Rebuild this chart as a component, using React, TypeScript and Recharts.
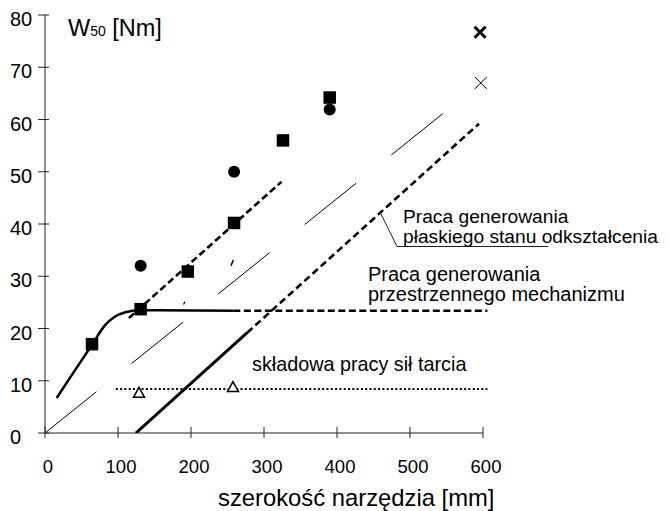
import React from 'react';
import { ComposedChart, Line, Scatter, XAxis, YAxis, ReferenceLine } from 'recharts';

const xTicks = [0, 100, 200, 300, 400, 500, 600];
const yTicks = [0, 10, 20, 30, 40, 50, 60, 70, 80];

// thin long-dash reference line from origin
const diagonalRef = [{ x: 0, y: 0 }, { x: 551, y: 61.8 }];
const refFragmentA = [{ x: 189.7, y: 24.6 }, { x: 191.8, y: 25.1 }];
const refFragmentB = [{ x: 254.8, y: 32.0 }, { x: 258, y: 33.1 }];

// plane strain work line
const planeStrainSolid = [{ x: 124.5, y: 0 }, { x: 277, y: 19.2 }];
const planeStrainDashed = [{ x: 277, y: 19.2 }, { x: 594.5, y: 59.2 }];

// spatial mechanism work curve
const spatialCurve = [
  { x: 16, y: 6.7 },
  { x: 40, y: 11.8 },
  { x: 65, y: 17 },
  { x: 82, y: 20.6 },
  { x: 95, y: 22.2 },
  { x: 110, y: 23.1 },
  { x: 130, y: 23.5 },
  { x: 258, y: 23.4 },
];
const spatialDashed = [{ x: 258, y: 23.4 }, { x: 606, y: 23.4 }];

// friction component
const frictionLine = [{ x: 97, y: 8.4 }, { x: 606, y: 8.4 }];

// trend through square markers
const trendLine = [{ x: 115, y: 22 }, { x: 324, y: 48.1 }];

const squares = [
  { x: 64.4, y: 17 },
  { x: 131, y: 23.7 },
  { x: 195.6, y: 30.9 },
  { x: 259, y: 40.2 },
  { x: 326, y: 56 },
  { x: 390, y: 64.2 },
];
const circles = [
  { x: 131, y: 32 },
  { x: 259, y: 50 },
  { x: 390, y: 61.9 },
];
const triangles = [
  { x: 128.8, y: 7.7 },
  { x: 257.5, y: 8.8 },
];
const crossBold = [{ x: 596, y: 76.7 }];
const crossThin = [{ x: 597, y: 67 }];

const FONT = '"Liberation Sans", Arial, Helvetica, sans-serif';

const XTick = (props: any) => {
  const { x, y, payload } = props;
  return (
    <g>
      <line x1={x} x2={x} y1={y - 6} y2={y + 5} stroke="#222" strokeWidth={1} />
      <text x={x + 3} y={y + 40} textAnchor="middle" fontSize={18.5} fontFamily={FONT} fill="#000">
        {payload.value}
      </text>
    </g>
  );
};

const YTick = (props: any) => {
  const { x, y, payload } = props;
  return (
    <g>
      <line x1={x - 7} x2={x + 4} y1={y} y2={y} stroke="#222" strokeWidth={1} />
      <text x={x - 35} y={y + 11} textAnchor="start" fontSize={20} fontFamily={FONT} fill="#000">
        {payload.value}
      </text>
    </g>
  );
};

const SquareShape = (p: any) => (
  <rect x={p.cx - 6.25} y={p.cy - 6.25} width={12.5} height={12.5} fill="#000" />
);
const CircleShape = (p: any) => <circle cx={p.cx} cy={p.cy} r={6} fill="#000" />;
const TriangleShape = (p: any) => (
  <polygon
    points={`${p.cx},${p.cy - 5.5} ${p.cx + 5.5},${p.cy + 4.5} ${p.cx - 5.5},${p.cy + 4.5}`}
    fill="#fff"
    stroke="#000"
    strokeWidth={1.5}
  />
);
const CrossBoldShape = (p: any) => (
  <g stroke="#000" strokeWidth={3}>
    <line x1={p.cx - 5.5} y1={p.cy - 5.5} x2={p.cx + 5.5} y2={p.cy + 5.5} />
    <line x1={p.cx - 5.5} y1={p.cy + 5.5} x2={p.cx + 5.5} y2={p.cy - 5.5} />
  </g>
);
const CrossThinShape = (p: any) => (
  <g stroke="#000" strokeWidth={1}>
    <line x1={p.cx - 6} y1={p.cy - 6} x2={p.cx + 6} y2={p.cy + 6} />
    <line x1={p.cx - 6} y1={p.cy + 6} x2={p.cx + 6} y2={p.cy - 6} />
  </g>
);

export default function App() {
  return (
    <div style={{ position: 'absolute', left: 0, top: 0, width: 669, height: 511, background: '#fff' }}>
      <ComposedChart
        width={669}
        height={511}
        margin={{ top: 15, right: 178.7, bottom: 48, left: 0 }}
      >
        <XAxis
          type="number"
          dataKey="x"
          domain={[0, 610]}
          ticks={xTicks}
          axisLine={false}
          tickLine={false}
          tickSize={0}
          tickMargin={0}
          height={30}
          tick={<XTick />}
          interval={0}
          allowDataOverflow
        />
        <YAxis
          type="number"
          dataKey="y"
          domain={[0, 80]}
          ticks={yTicks}
          width={45}
          axisLine={{ stroke: '#222', strokeWidth: 1 }}
          tickLine={false}
          tickSize={0}
          tickMargin={0}
          tick={<YTick />}
          interval={0}
          allowDataOverflow
        />
        <ReferenceLine
          segment={[{ x: 0, y: 0 }, { x: 600, y: 0 }]}
          stroke="#222"
          strokeWidth={1}
          ifOverflow="visible"
        />
        <Line data={diagonalRef} dataKey="y" stroke="#000" strokeWidth={1} strokeDasharray="66 45" dot={false} isAnimationActive={false} />
        <Line data={refFragmentA} dataKey="y" stroke="#000" strokeWidth={1.2} dot={false} isAnimationActive={false} />
        <Line data={refFragmentB} dataKey="y" stroke="#000" strokeWidth={1.5} dot={false} isAnimationActive={false} />
        <Line data={frictionLine} dataKey="y" stroke="#000" strokeWidth={2} strokeDasharray="2 2.3" dot={false} isAnimationActive={false} />
        <Line data={planeStrainSolid} dataKey="y" stroke="#000" strokeWidth={3} dot={false} isAnimationActive={false} />
        <Line data={planeStrainDashed} dataKey="y" stroke="#000" strokeWidth={2.6} strokeDasharray="7 4" dot={false} isAnimationActive={false} />
        <Line data={spatialCurve} dataKey="y" type="monotone" stroke="#000" strokeWidth={2.5} dot={false} isAnimationActive={false} />
        <Line data={spatialDashed} dataKey="y" stroke="#000" strokeWidth={2.6} strokeDasharray="7 3.5" dot={false} isAnimationActive={false} />
        <Line data={trendLine} dataKey="y" stroke="#000" strokeWidth={2.6} strokeDasharray="7 3.5" dot={false} isAnimationActive={false} />
        <Scatter data={triangles} dataKey="y" shape={<TriangleShape />} isAnimationActive={false} />
        <Scatter data={squares} dataKey="y" shape={<SquareShape />} isAnimationActive={false} />
        <Scatter data={circles} dataKey="y" shape={<CircleShape />} isAnimationActive={false} />
        <Scatter data={crossBold} dataKey="y" shape={<CrossBoldShape />} isAnimationActive={false} />
        <Scatter data={crossThin} dataKey="y" shape={<CrossThinShape />} isAnimationActive={false} />
      </ComposedChart>
      <svg
        width={669}
        height={511}
        style={{ position: 'absolute', left: 0, top: 0, pointerEvents: 'none' }}
        fontFamily={FONT}
      >
        <text x={68} y={36} fontSize={23.5} fill="#000">
          W<tspan fontSize={14}>50</tspan> [Nm]
        </text>
        <polyline points="380,212 397,246.5 548,246.5" fill="none" stroke="#222" strokeWidth={1} />
        <text x={403} y={223} fontSize={19.2} fill="#000">Praca generowania</text>
        <text x={403} y={243} fontSize={19.2} fill="#000">płaskiego stanu odkształcenia</text>
        <text x={368} y={281} fontSize={20} fill="#000">Praca generowania</text>
        <text x={368} y={301} fontSize={20} fill="#000">przestrzennego mechanizmu</text>
        <text x={252} y={371} fontSize={19.8} fill="#000">składowa pracy sił tarcia</text>
        <text x={218} y={506} fontSize={23.8} fill="#000">szerokość narzędzia [mm]</text>
      </svg>
    </div>
  );
}
